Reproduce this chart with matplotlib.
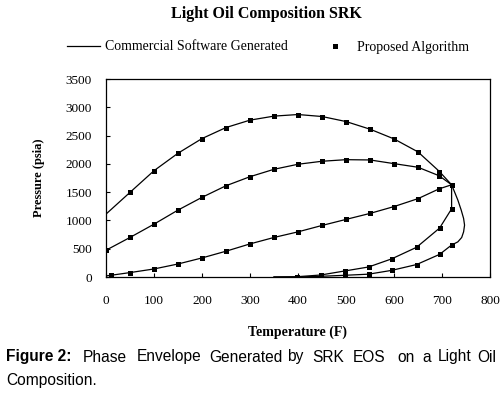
import matplotlib
matplotlib.use("Agg")
import matplotlib.pyplot as plt
from matplotlib.lines import Line2D

# commercial software curves
env_T = [0, 50, 100, 150, 200, 250, 300, 350, 400, 450, 500, 550, 600, 650, 694, 720,
         726, 733, 740, 745, 747, 745, 741, 733, 720, 695, 647, 595, 547, 497, 447, 398, 350]
env_P = [1112, 1496, 1879, 2188, 2447, 2642, 2773, 2844, 2872, 2837, 2748, 2613, 2441, 2211, 1870, 1630,
         1507, 1360, 1183, 1035, 917, 798, 698, 621, 565, 400, 220, 117, 50, 30, 12, 0, 0]

q1_T = [0, 50, 100, 150, 200, 250, 300, 350, 400, 450, 500, 550, 600, 650, 694, 720]
q1_P = [473, 699, 934, 1183, 1408, 1613, 1773, 1904, 1993, 2046, 2074, 2069, 2004, 1940, 1790, 1630]

q2_T = [0, 10, 50, 100, 150, 200, 250, 300, 350, 400, 450, 500, 550, 600, 650, 694, 720]
q2_P = [20, 30, 78, 142, 230, 337, 456, 585, 699, 798, 911, 1018, 1124, 1245, 1385, 1558, 1630]

q3_T = [720, 720, 695, 647, 595, 547, 497, 447, 398, 350]
q3_P = [1630, 1205, 865, 525, 320, 177, 106, 35, 5, 0]

# proposed algorithm points
alg_T = [50, 100, 150, 200, 250, 300, 350, 400, 450, 500, 550, 600, 650, 694,
         0, 50, 100, 150, 200, 250, 300, 350, 400, 450, 500, 550, 600, 650, 694,
         10, 50, 100, 150, 200, 250, 300, 350, 400, 450, 500, 550, 600, 650, 694,
         720,
         720, 695, 647, 595, 547, 497, 447, 398,
         720, 695, 647, 595, 547, 497, 447, 398]
alg_P = [1496, 1879, 2188, 2447, 2642, 2773, 2844, 2872, 2837, 2748, 2613, 2441, 2211, 1862,
         473, 699, 934, 1183, 1408, 1613, 1773, 1904, 1993, 2046, 2074, 2069, 2004, 1940, 1791,
         30, 78, 142, 230, 337, 456, 585, 699, 798, 911, 1018, 1124, 1245, 1385, 1558,
         1630,
         1205, 865, 525, 320, 177, 106, 35, 5,
         565, 400, 220, 117, 50, 30, 12, 0]

x_ticks = [0, 100, 200, 300, 400, 500, 600, 700, 800]
y_ticks = [0, 500, 1000, 1500, 2000, 2500, 3000, 3500]

serif = 'Liberation Serif'
sans = 'Liberation Sans'

fig = plt.figure(figsize=(5.04, 3.94), dpi=100)
ax = fig.add_axes([106/504, 1 - 277/394, 384/504, 198/394])

lw = 0.9
ax.plot(env_T, env_P, color='black', lw=lw)
ax.plot(q1_T, q1_P, color='black', lw=lw)
ax.plot(q2_T, q2_P, color='black', lw=lw)
ax.plot(q3_T, q3_P, color='black', lw=lw)
ax.plot(alg_T, alg_P, 's', color='black', ms=3.6, mew=0)

ax.set_xlim(0, 800)
ax.set_ylim(0, 3500)
ax.set_xticks(x_ticks)
ax.set_yticks(y_ticks)
ax.tick_params(direction='in', length=3, width=0.8, labelsize=9.5)
ax.tick_params(axis='x', pad=13)
ax.tick_params(axis='y', pad=10)
for lab in ax.get_xticklabels() + ax.get_yticklabels():
    lab.set_fontfamily(serif)
for s in ax.spines.values():
    s.set_linewidth(0.9)

ax.set_xlabel('Temperature (F)', fontfamily=serif, fontweight='bold', fontsize=10, labelpad=13)
ax.set_ylabel('Pressure (psia)', fontfamily=serif, fontweight='bold', fontsize=9, labelpad=15)

fig.text(266/504, 1 - 14/394, 'Light Oil Composition SRK', ha='center', va='center',
         fontfamily=serif, fontweight='bold', fontsize=11.5)

# legend
handles = [Line2D([], [], color='black', lw=lw),
           Line2D([], [], ls='none', marker='s', color='black', ms=3.6, mew=0)]
fig.legend(handles, ['Commercial Software Generated', 'Proposed Algorithm'],
           loc='center left', bbox_to_anchor=(67/504, 1 - 47/394), ncol=2, frameon=False,
           prop={'family': serif, 'size': 10}, handlelength=2.4, handletextpad=0.35,
           columnspacing=2.2, borderpad=0, borderaxespad=0)

# caption
y1 = 1 - 357/394
fs = 11.2
fig.text(6/504, y1, 'Figure 2:', fontfamily=sans, fontweight='bold', fontsize=fs, va='center')
words = ['Phase', 'Envelope', 'Generated', 'by', 'SRK', 'EOS', 'on', 'a', 'Light', 'Oil']
xs = [83, 137, 209, 287, 312, 353, 397, 422, 438, 477]
for w, x in zip(words, xs):
    fig.text(x/504, y1, w, fontfamily=sans, fontsize=fs, va='center')
fig.text(6/504, 1 - 380/394, 'Composition.', fontfamily=sans, fontsize=fs, va='center')

fig.savefig('out.png', dpi=100)
